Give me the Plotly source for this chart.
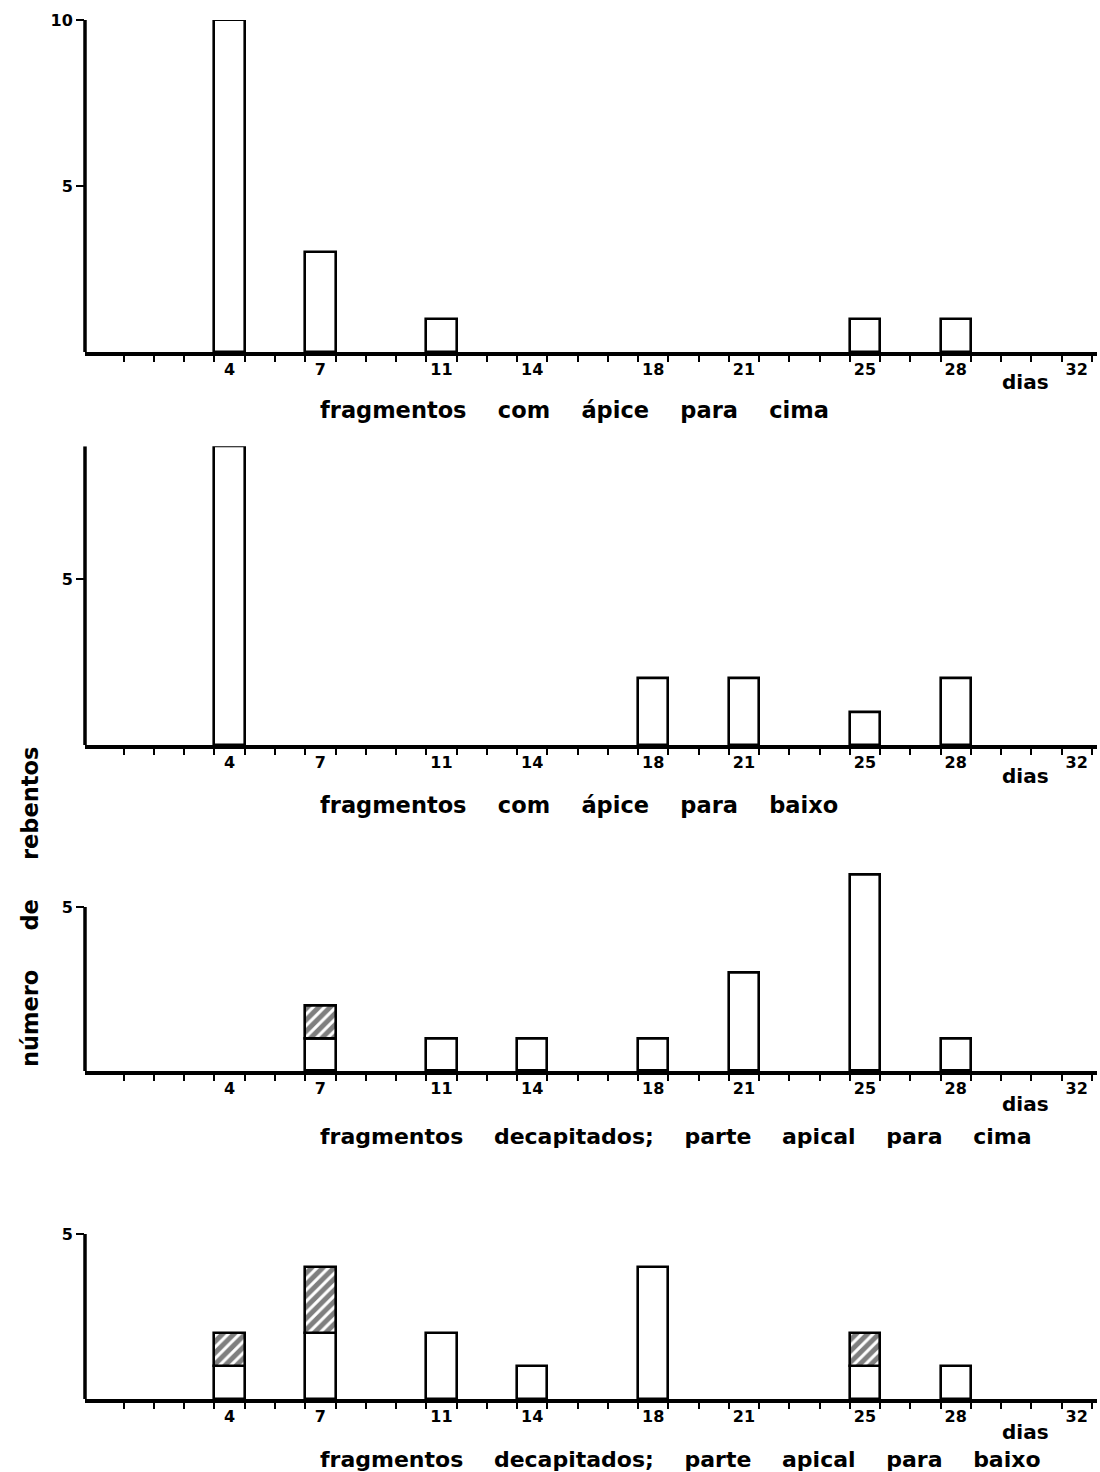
import plotly.graph_objects as go

# Shoot counts per observation day for four groups of fragments
days = [4, 7, 11, 14, 18, 21, 25, 28]
tick_days = [4, 7, 11, 14, 18, 21, 25, 28, 32]

apice_cima = [10, 3, 1, 0, 0, 0, 1, 1]
apice_baixo = [9, 0, 0, 0, 2, 2, 1, 2]
decap_cima = [0, 1, 1, 1, 1, 3, 6, 1]
decap_cima_hatch = [0, 1, 0, 0, 0, 0, 0, 0]
decap_baixo = [1, 2, 2, 1, 4, 0, 1, 1]
decap_baixo_hatch = [1, 2, 0, 0, 0, 0, 1, 0]

GAP = "    "
titles = [
    GAP.join(["fragmentos", "com", "ápice", "para", "cima"]),
    GAP.join(["fragmentos", "com", "ápice", "para", "baixo"]),
    GAP.join(["fragmentos", "decapitados;", "parte", "apical", "para", "cima"]),
    GAP.join(["fragmentos", "decapitados;", "parte", "apical", "para", "baixo"]),
]
title_sizes = [22.5, 22.5, 22, 22]
y_title = "     ".join(["número", "de", "rebentos"])

W, H = 1100, 1472
FONT = "DejaVu Sans"

# panel geometry in pixels: baseline, pixels per unit, y-range top, axis-line top, y ticks
panels = [
    dict(base=352, unit=33.2, ymax=10, linetop=10, yticks=[5, 10],
         open=apice_cima, hatch=None, title_y=410, dias_y=382),
    dict(base=745, unit=33.2, ymax=9, linetop=9, yticks=[5],
         open=apice_baixo, hatch=None, title_y=805, dias_y=776),
    dict(base=1071, unit=32.8, ymax=6.2, linetop=5, yticks=[5],
         open=decap_cima, hatch=decap_cima_hatch, title_y=1136, dias_y=1104),
    dict(base=1399, unit=33.0, ymax=5, linetop=5, yticks=[5],
         open=decap_baixo, hatch=decap_baixo_hatch, title_y=1459, dias_y=1432),
]

X_LEFT, X_RIGHT = 85, 1097
XRANGE = [-0.28, 33.17]

fig = go.Figure()
annotations = []
shapes = []

for i, p in enumerate(panels, start=1):
    xa = "x" if i == 1 else f"x{i}"
    ya = "y" if i == 1 else f"y{i}"
    top_px = p["base"] - p["ymax"] * p["unit"]

    xs = [d + 0.5 for d, v in zip(days, p["open"]) if v > 0]
    ys = [v for v in p["open"] if v > 0]
    fig.add_trace(go.Bar(
        x=xs, y=ys, width=1, xaxis=xa, yaxis=ya, showlegend=False,
        marker=dict(color="white", line=dict(color="black", width=2.6)),
    ))
    if p["hatch"] is not None:
        hx = [d + 0.5 for d, v in zip(days, p["hatch"]) if v > 0]
        hy = [v for v in p["hatch"] if v > 0]
        hb = [o for o, v in zip(p["open"], p["hatch"]) if v > 0]
        fig.add_trace(go.Bar(
            x=hx, y=hy, base=hb, width=1, xaxis=xa, yaxis=ya, showlegend=False,
            marker=dict(color="white", line=dict(color="black", width=2.6),
                        pattern=dict(shape="/", fgcolor="black", bgcolor="white",
                                     size=8, solidity=0.62)),
        ))

    xkey = "xaxis" if i == 1 else f"xaxis{i}"
    ykey = "yaxis" if i == 1 else f"yaxis{i}"
    fig.layout[xkey] = dict(
        domain=[X_LEFT / W, X_RIGHT / W], range=XRANGE, anchor=ya, automargin=False,
        showgrid=False, zeroline=False, showline=True, linecolor="black", linewidth=3.5,
        tickmode="array", tickvals=[d + 0.5 for d in tick_days],
        ticktext=[str(d) for d in tick_days], ticks="",
        tickfont=dict(family=FONT, size=16, color="black", weight="bold"),
        minor=dict(tickvals=list(range(1, 34)), ticks="outside", ticklen=6,
                   tickwidth=2, tickcolor="black"),
        fixedrange=True,
    )
    fig.layout[ykey] = dict(
        domain=[1 - p["base"] / H, 1 - top_px / H], range=[0, p["ymax"]], anchor=xa,
        automargin=False, showgrid=False, zeroline=False, showline=False,
        tickmode="array", tickvals=p["yticks"], ticktext=[str(t) for t in p["yticks"]],
        ticks="outside", ticklen=8, tickwidth=2, tickcolor="black",
        tickfont=dict(family=FONT, size=16, color="black", weight="bold"),
        fixedrange=True,
    )
    # vertical axis line up to the last labelled value
    shapes.append(dict(type="line", xref=f"{xa} domain", yref=ya,
                       x0=0, x1=0, y0=0, y1=p["linetop"],
                       line=dict(color="black", width=3.5)))

    annotations.append(dict(
        text=titles[i - 1], xref="paper", yref="paper",
        x=318 / W, y=1 - p["title_y"] / H, xanchor="left", yanchor="middle",
        showarrow=False,
        font=dict(family=FONT, size=title_sizes[i - 1], color="black", weight="bold"),
    ))
    annotations.append(dict(
        text="dias", xref="paper", yref="paper",
        x=1025 / W, y=1 - p["dias_y"] / H, xanchor="center", yanchor="middle",
        showarrow=False, font=dict(family=FONT, size=20, color="black", weight="bold"),
    ))

annotations.append(dict(
    text=y_title, xref="paper", yref="paper",
    x=30 / W, y=1 - 907 / H, xanchor="center", yanchor="middle", textangle=-90,
    showarrow=False, font=dict(family=FONT, size=22.5, color="black", weight="bold"),
))

fig.update_layout(
    width=W, height=H, margin=dict(l=0, r=0, t=0, b=0, autoexpand=False),
    paper_bgcolor="white", plot_bgcolor="rgba(0,0,0,0)",
    barmode="overlay", bargap=0,
    annotations=annotations, shapes=shapes,
)

fig.write_html("out.html", config={"displayModeBar": False})
